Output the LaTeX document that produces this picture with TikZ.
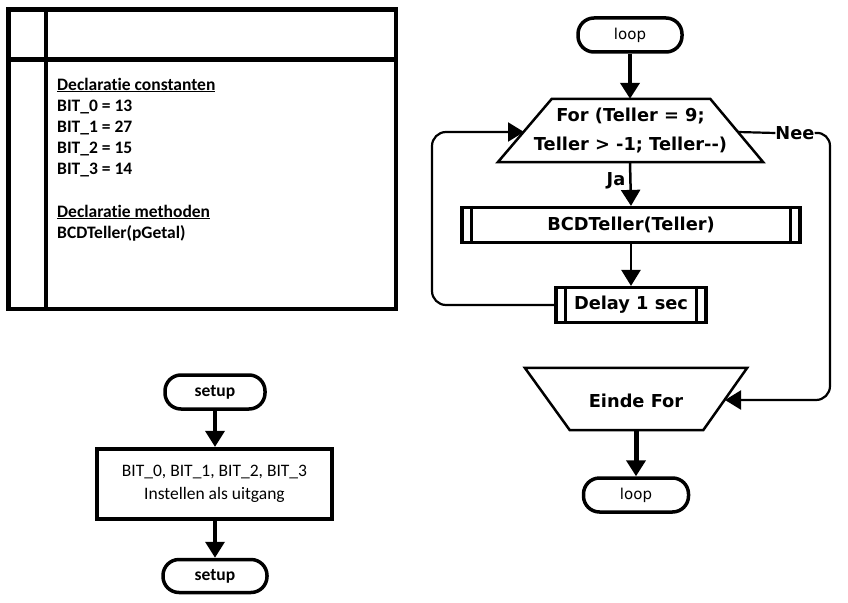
\documentclass[tikz,border=0pt]{standalone}
\usepackage{fontspec}
\setmainfont{Carlito}[Ligatures={NoCommon,NoDiscretionary,NoContextual}]
\newfontfamily\vfont{DejaVu Sans}
\usetikzlibrary{arrows.meta,calc}
\begin{document}
\begin{tikzpicture}[x=1pt,y=-1pt,
  cfont/.style={font=\fontsize{17.5}{21}\selectfont\bfseries},
  cfontr/.style={font=\fontsize{17.5}{23}\selectfont},
  vb/.style={font=\vfont\fontsize{17.8}{29}\selectfont\bfseries},
  vr/.style={font=\vfont\fontsize{15}{18}\selectfont},
  term/.style={draw, line width=3.5pt, rounded corners=16pt, minimum width=104pt, minimum height=34pt, inner sep=0pt},
  subbox/.style={draw, line width=3.2pt, minimum height=35pt, inner sep=0pt},
  trapline/.style={line width=2.5pt, line join=miter},
  arr/.style={line width=#1, -{Triangle[width=19pt,length=16pt]}},
  arr/.default=2.5pt,
  thin line/.style={line width=2.2pt, rounded corners=14pt},
  decl/.style={cfont, anchor=base west, inner sep=0pt}
]
\useasboundingbox (0,0) rectangle (848,602);

% ---------- left declaration box ----------
\draw[line width=4.2pt] (8.5,9.5) rectangle (396,309);
\draw[line width=4.2pt] (46,9.5) -- (46,309);
\draw[line width=4.2pt] (8.5,59.5) -- (396,59.5);
\node[decl] (d1) at (57,90) {\underline{Declaratie constanten}};
\node[decl] (d2) at (57,111) {BIT\_0 = 13};
\node[decl] (d3) at (57,132) {BIT\_1 = 27};
\node[decl] (d4) at (57,153) {BIT\_2 = 15};
\node[decl] (d5) at (57,174) {BIT\_3 = 14};
\node[decl] (d6) at (57,217) {\underline{Declaratie methoden}};
\node[decl] (d7) at (57,238) {BCDTeller(pGetal)};

% ---------- setup flow ----------
\node[term, cfont, minimum width=100pt] (s1) at (215,392) {setup};
\node[draw, line width=4.2pt, minimum width=235pt, minimum height=70pt, align=center, cfontr, inner sep=0pt] (sbox) at (214.5,484) {BIT\_0, BIT\_1, BIT\_2, BIT\_3\\Instellen als uitgang};
\node[term, cfont, minimum width=104pt, minimum height=33pt] (s2) at (215,576) {setup};
\draw[arr=3.5pt] (s1.south) -- (s1.south |- sbox.north);
\draw[arr=3.5pt] (s1.south |- sbox.south) -- (s2.north);

% ---------- loop flow ----------
\node[term, vr] (l1) at (630,35) {loop};
\node[vb, align=center, minimum width=265pt, minimum height=63pt, inner sep=0pt] (for) at (630.5,130.5) {For (Teller = 9;\\Teller > -1; Teller--)};
\draw[trapline] ([xshift=54pt]for.north west) -- ([xshift=-53pt]for.north east) -- (for.south east) -- (for.south west) -- cycle;
\coordinate (forL) at (524,132);
\coordinate (forR) at (738,132);

\node[subbox, vb, minimum width=338pt] (bcd) at (631,225) {BCDTeller(Teller)};
\draw[line width=2.5pt] ([xshift=11pt]bcd.north west) -- ([xshift=11pt]bcd.south west);
\draw[line width=2.5pt] ([xshift=-11pt]bcd.north east) -- ([xshift=-11pt]bcd.south east);

\node[subbox, vb, minimum width=150pt] (delay) at (631,305) {Delay 1 sec};
\draw[line width=2.5pt] ([xshift=11pt]delay.north west) -- ([xshift=11pt]delay.south west);
\draw[line width=2.5pt] ([xshift=-11pt]delay.north east) -- ([xshift=-11pt]delay.south east);

\node[vb, align=center, minimum width=222pt, minimum height=62pt, inner sep=0pt] (einde) at (636,401) {Einde For};
\draw[trapline] ([yshift=2pt]einde.north west) -- ([yshift=2pt]einde.north east) -- ([xshift=-44pt,yshift=2pt]einde.south east) -- ([xshift=45pt,yshift=2pt]einde.south west) -- cycle;
\coordinate (eindeR) at (725,400);
\coordinate (eindeB) at (636,430);

\node[term, vr, minimum width=105pt] (l2) at (636,495) {loop};

\node[vb, inner sep=0pt] (ja) at (616,181) {Ja};
\node[vb, inner sep=0pt] (nee) at (795,133) {Nee};

\draw[arr=4.5pt] (l1.south) -- (l1.south |- for.north);
\draw[arr] (l1.south |- for.south) -- (bcd.north);
\draw[arr] (bcd.south) -- (delay.north);
\draw[thin line, -{Triangle[width=19pt,length=16pt]}] (delay.west) -- (432,305) -- (432,132) -- (forL);
\draw[line width=2.2pt] (forR) -- (nee.west);
\draw[thin line, -{Triangle[width=19pt,length=16pt]}] (nee.east) -- (830,132) -- (830,400) -- (eindeR);
\draw[arr=5pt] (eindeB) -- (l2.north);
\end{tikzpicture}
\end{document}
